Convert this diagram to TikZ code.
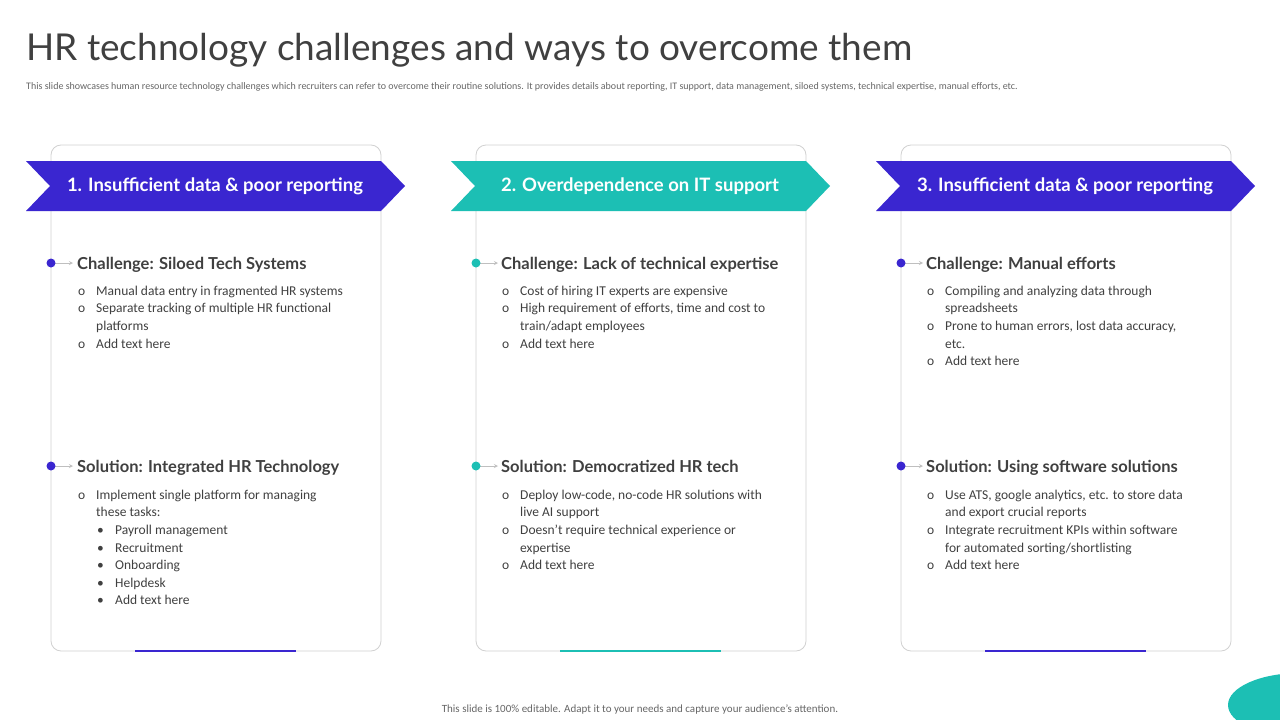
\documentclass[tikz,border=0pt]{standalone}
\usepackage{fontspec}
\setmainfont{Carlito}
\newfontfamily\headf{Lato}
\definecolor{cblue}{HTML}{3A26D0}
\definecolor{cteal}{HTML}{1CBFB4}
\definecolor{ctext}{HTML}{404040}
\begin{document}
\begin{tikzpicture}[x=1pt,y=-1pt,
  card/.style={draw=black!18,line width=0.8pt,rounded corners=10pt,fill=white},
  bodyt/.style={anchor=base west,font=\fontsize{13.5}{15}\selectfont,text=ctext,inner sep=0},
  headt/.style={anchor=base west,font=\headf\bfseries\fontsize{16.5}{18}\selectfont,text=ctext,inner sep=0},
  bant/.style={font=\headf\bfseries\fontsize{18.5}{20}\selectfont,text=white,inner sep=0}]
\useasboundingbox (0,0) rectangle (1280,720);
\node[anchor=base west,inner sep=0,font=\headf\fontsize{37}{40}\selectfont,text=ctext] (title) at (26,60) {HR technology challenges and ways to overcome them};
\node[anchor=base west,inner sep=0,font=\fontsize{10}{12}\selectfont,text=black!60] (sub) at (26,89) {This slide showcases human resource technology challenges which recruiters can refer to overcome their routine solutions. It provides details about reporting, IT support, data management, siloed systems, technical expertise, manual efforts, etc.};
\node[anchor=base,inner sep=0,font=\fontsize{11}{12}\selectfont,text=black!60] (foot) at (640,712) {This slide is 100\% editable. Adapt it to your needs and capture your audience's attention.};
\begin{scope}
\clip (0,0) rectangle (1280,720);
\fill[cteal] (1300,705) ellipse (72 and 32);
\end{scope}
% cards
\foreach \x/\c/\t in {51/cblue/{1. Insufficient data \& poor reporting},476/cteal/{2. Overdependence on IT support},901/cblue/{3. Insufficient data \& poor reporting}}{
  \draw[card] (\x,145) rectangle ++(330,506);
  \draw[\c,line width=2pt] (\x+84,651) -- ++(161,0);
  \fill[\c] (\x-25,161) -- (\x+330,161) -- (\x+354,186) -- (\x+330,211) -- (\x-25,211) -- (\x-1,186) -- cycle;
  \node[bant] at (\x+164,186) {\t};
  \foreach \yy in {263,466}{
    \draw[black!25,line width=0.8pt,-stealth] (\x+4,\yy) -- (\x+22,\yy);
    \fill[\c] (\x,\yy) circle (4.5);
  }
}
% column 1
\node[headt] at (77,269) {Challenge: Siloed Tech Systems};
\foreach \y/\m/\t in {295/o/{Manual data entry in fragmented HR systems},312/o/{Separate tracking of multiple HR functional},330//{platforms},348/o/{Add text here}}{
  \node[bodyt] at (78,\y) {\m}; \node[bodyt] at (96,\y) {\t};}
\node[headt] at (77,472) {Solution: Integrated HR Technology};
\foreach \y/\m/\t in {499/o/{Implement single platform for managing},516//{these tasks:}}{
  \node[bodyt] at (78,\y) {\m}; \node[bodyt] at (96,\y) {\t};}
\foreach \y/\t in {534/{Payroll management},552/{Recruitment},569/{Onboarding},587/{Helpdesk},604/{Add text here}}{
  \node[bodyt] at (97,\y) {•}; \node[bodyt] at (115,\y) {\t};}
% column 2
\node[headt] at (501,269) {Challenge: Lack of technical expertise};
\foreach \y/\m/\t in {295/o/{Cost of hiring IT experts are expensive},312/o/{High requirement of efforts, time and cost to},330//{train/adapt employees},348/o/{Add text here}}{
  \node[bodyt] at (502,\y) {\m}; \node[bodyt] at (520,\y) {\t};}
\node[headt] at (501,472) {Solution: Democratized HR tech};
\foreach \y/\m/\t in {499/o/{Deploy low-code, no-code HR solutions with},516//{live AI support},534/o/{Doesn’t require technical experience or},552//{expertise},569/o/{Add text here}}{
  \node[bodyt] at (502,\y) {\m}; \node[bodyt] at (520,\y) {\t};}
% column 3
\node[headt] at (926,269) {Challenge: Manual efforts};
\foreach \y/\m/\t in {295/o/{Compiling and analyzing data through},312//{spreadsheets},330/o/{Prone to human errors, lost data accuracy,},348//{etc.},365/o/{Add text here}}{
  \node[bodyt] at (927,\y) {\m}; \node[bodyt] at (945,\y) {\t};}
\node[headt] at (926,472) {Solution: Using software solutions};
\foreach \y/\m/\t in {499/o/{Use ATS, google analytics, etc. to store data},516//{and export crucial reports},534/o/{Integrate recruitment KPIs within software},552//{for automated sorting/shortlisting},569/o/{Add text here}}{
  \node[bodyt] at (927,\y) {\m}; \node[bodyt] at (945,\y) {\t};}
\end{tikzpicture}
\end{document}
